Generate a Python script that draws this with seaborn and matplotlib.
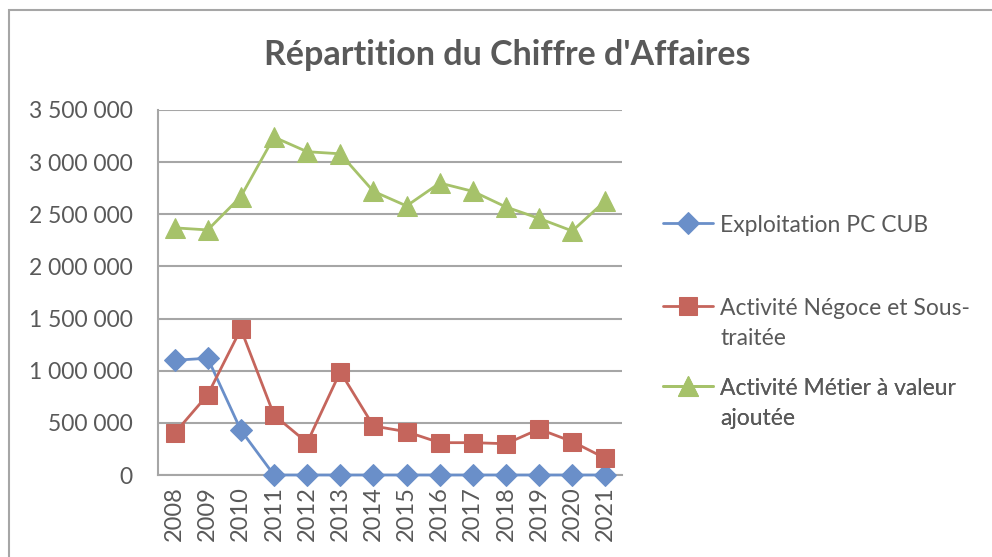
import matplotlib
matplotlib.use("Agg")
import matplotlib.pyplot as plt
import seaborn as sns
import pandas as pd
from matplotlib.patches import Rectangle
from matplotlib.ticker import FuncFormatter, MultipleLocator

years = ["2008", "2009", "2010", "2011", "2012", "2013", "2014",
         "2015", "2016", "2017", "2018", "2019", "2020", "2021"]
exploitation = [1100000, 1120000, 430000, 0, 0, 0, 0, 0, 0, 0, 0, 0, 0, 0]
negoce = [400000, 770000, 1400000, 575000, 310000, 990000, 470000,
          415000, 310000, 310000, 300000, 440000, 320000, 160000]
metier = [2370000, 2350000, 2670000, 3240000, 3100000, 3080000, 2720000,
          2580000, 2800000, 2720000, 2570000, 2460000, 2340000, 2630000]
series_names = ["Exploitation PC CUB",
                "Activité Négoce et Sous-\ntraitée",
                "Activité Métier à valeur\najoutée"]
title = "Répartition du Chiffre d'Affaires"

colors = ["#6a8fc9", "#c5655c", "#a6c26a"]
markers = ["D", "s", "^"]
msizes = [11, 13, 15]
legend_tops = [215, 298, 378]  # pixel y of top of each legend entry

sns.set_theme(style="white")
plt.rcParams["font.family"] = ["Lato", "DejaVu Sans"]

fig = plt.figure(figsize=(9.92, 5.57), dpi=100)
ax = fig.add_axes([158 / 992, 1 - 475 / 557, (622 - 158) / 992, (475 - 110) / 557])

pos = list(range(len(years)))
for vals, name, c, m, ms in zip([exploitation, negoce, metier], series_names, colors, markers, msizes):
    df = pd.DataFrame({"x": pos, "y": vals})
    sns.lineplot(data=df, x="x", y="y", ax=ax, color=c, marker=m, markersize=ms,
                 markeredgecolor=c, linewidth=2, label=name, zorder=3, clip_on=False)

ax.set_xlim(-0.5, len(years) - 0.5)
ax.set_ylim(0, 3500000)
ax.yaxis.set_major_locator(MultipleLocator(500000))
ax.yaxis.set_major_formatter(FuncFormatter(lambda v, p: f"{int(v):,}".replace(",", " ")))
ax.set_xticks(pos)
ax.set_xticklabels(years, rotation=90)
ax.set_xlabel("")
ax.set_ylabel("")
ax.grid(axis="y", color="#a6a6a6", linewidth=1.5)
ax.set_axisbelow(True)
for s in ["top", "right"]:
    ax.spines[s].set_visible(False)
for s in ["left", "bottom"]:
    ax.spines[s].set_color("#a6a6a6")
    ax.spines[s].set_linewidth(1.5)
ax.tick_params(axis="both", length=0, labelsize=16.5, labelcolor="#595959")
ax.tick_params(axis="x", pad=8, labelsize=17)
ax.tick_params(axis="y", pad=18)
for sp in ax.spines.values():
    sp.set_zorder(1)

fig.text(507 / 992, 1 - 55 / 557, title, ha="center", va="center",
         fontsize=24.5, fontweight="bold", color="#595959")

handles, labels = ax.get_legend_handles_labels()
ax.get_legend().remove()
for h, lab, ytop in zip(handles, labels, legend_tops):
    leg = ax.legend([h], [lab], loc="upper left", bbox_to_anchor=(663 / 992, 1 - ytop / 557),
                    bbox_transform=fig.transFigure, frameon=False, fontsize=16.5,
                    handlelength=2.2, handletextpad=0.3, borderaxespad=0, borderpad=0)
    for t in leg.get_texts():
        t.set_color("#595959")
        t.set_linespacing(1.55)
    try:
        for col in leg._legend_handle_box.get_children():
            for hp in col.get_children():
                hp.align = "top"
    except Exception:
        pass
    ax.add_artist(leg)

fig.add_artist(Rectangle((9 / 992, -0.1), 1.2, 1.1 - 10 / 557, transform=fig.transFigure,
                         fill=False, edgecolor="#a6a6a6", linewidth=1.5))

fig.savefig("out.png", dpi=100)
